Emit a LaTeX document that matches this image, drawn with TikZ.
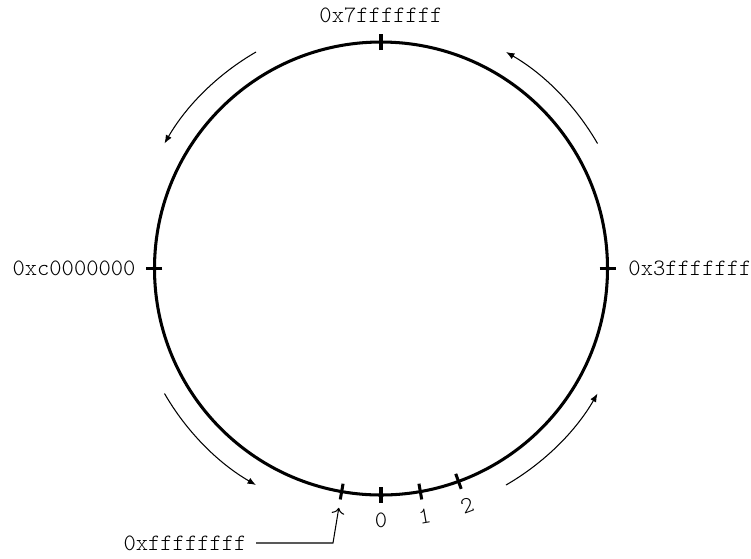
\documentclass[tikz,border=0pt]{standalone}
\usepackage{fontspec}
\setmonofont{Latin Modern Mono Light}
\usetikzlibrary{arrows.meta}
\begin{document}
\begin{tikzpicture}[x=0.4268pt,y=0.4268pt,
  ring/.style={line width=1.3pt},
  tickmark/.style={line width=1.3pt},
  flow/.style={line width=0.45pt,-{Latex[length=3.6pt,width=2.8pt]}},
  lbl/.style={font=\ttfamily,inner sep=0pt},
  pointer/.style={line width=0.45pt,->}]
\useasboundingbox (-381,-289.5) rectangle (370,268.5);
\coordinate (c) at (0,0);
\draw[ring] (c) circle[radius=226.5];
% ticks
\foreach \a in {90,180,0,270,280,290,260}{
  \draw[tickmark] (\a:218.5) -- (\a:234.5);
}
% labels
\node[lbl] (l7) at (0,253.5) {0x7fffffff};
\node[lbl,anchor=east] (lc) at (-245,0) {0xc0000000};
\node[lbl,anchor=west] (l3) at (247,0) {0x3fffffff};
\node[lbl] (n0) at (270:252) {0};
\node[lbl,rotate=10] (n1) at (280:252) {1};
\node[lbl,rotate=20] (n2) at (290:252) {2};
\node[lbl,anchor=east] (lf) at (-134,-274.5) {0xffffffff};
\coordinate (bend) at (-48,-274.5);
\coordinate (tipf) at (260:243);
\draw[pointer] ([xshift=9*0.4268pt]lf.east) -- (bend) -- (tipf);
% direction arrows
\foreach \s in {30,120,210,300}{
  \draw[flow] (\s:250) arc[start angle=\s, end angle=\s+30, radius=250];
}
\end{tikzpicture}
\end{document}
